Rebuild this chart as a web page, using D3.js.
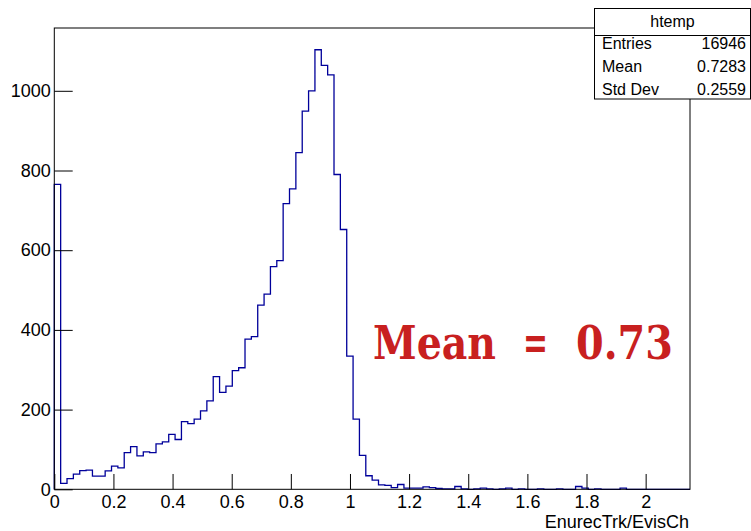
<!DOCTYPE html>
<html>
<head>
<meta charset="utf-8">
<script src="https://cdn.jsdelivr.net/npm/d3@7"></script>
<style>
  html, body { margin: 0; padding: 0; background: #fff; }
  svg { display: block; }
</style>
</head>
<body>
<svg id="chart" width="751" height="531"></svg>
<script>
// ---- data ----
const xMin = 0;
const xMax = 2.15;
const nBins = 100;
const binValues = [
  765, 15, 27, 38, 47, 48, 33, 33, 46, 58,
  54, 92, 107, 84, 94, 92, 114, 119, 138, 125,
  170, 165, 176, 197, 222, 283, 243, 259, 298, 305,
  377, 383, 462, 490, 559, 574, 717, 754, 845, 949,
  1000, 1103, 1064, 1040, 790, 652, 334, 176, 85, 34,
  23, 11, 10, 4, 12, 3, 3, 3, 6, 4,
  2, 1, 1, 7, 1, 0, 1, 3, 1, 0,
  1, 3, 0, 1, 0, 0, 1, 0, 0, 1,
  0, 0, 7, 3, 0, 1, 0, 0, 0, 3,
  0, 0, 0, 0, 0, 0, 0, 0, 0, 0
];
const xMajorTicks = [0, 0.2, 0.4, 0.6, 0.8, 1, 1.2, 1.4, 1.6, 1.8, 2];
const xTickLabels = ["0", "0.2", "0.4", "0.6", "0.8", "1", "1.2", "1.4", "1.6", "1.8", "2"];
const yMajorTicks = [0, 200, 400, 600, 800, 1000];
const yTickLabels = ["0", "200", "400", "600", "800", "1000"];
const yMax = 1157.6;
const xTitle = "EnurecTrk/EvisCh";
const statsTitle = "htemp";
const statsNames = ["Entries", "Mean", "Std Dev"];
const statsValues = ["16946", "0.7283", "0.2559"];
const annotationParts = ["Mean", "=", "0.73"];

// ---- layout ----
const L = 54.3, R = 690, T = 28, B = 489.3;
const svg = d3.select("#chart");
const x = d3.scaleLinear().domain([xMin, xMax]).range([L, R]);
const y = d3.scaleLinear().domain([0, yMax]).range([B, T]);
const font = "'Liberation Sans', Arial, Helvetica, sans-serif";

// histogram outline
const bw = (xMax - xMin) / nBins;
const pts = [[xMin, 0]];
binValues.forEach((v, i) => {
  pts.push([xMin + i * bw, v]);
  pts.push([xMin + (i + 1) * bw, v]);
});
pts.push([xMax, 0]);
svg.append("path")
  .attr("d", d3.line().x(d => x(d[0])).y(d => y(d[1]))(pts))
  .attr("fill", "none")
  .attr("stroke", "#00009a")
  .attr("stroke-width", 1.3);

// frame
svg.append("rect")
  .attr("x", L).attr("y", T).attr("width", R - L).attr("height", B - T)
  .attr("fill", "none").attr("stroke", "#000").attr("stroke-width", 1);

// x axis
const xMinor = d3.range(0, 43).map(i => +(i * 0.05).toFixed(2)).filter(v => v <= xMax && Math.abs(v / 0.2 - Math.round(v / 0.2)) > 1e-6);
const gx = svg.append("g").attr("transform", `translate(0,${B})`);
gx.call(d3.axisBottom(x).tickValues(xMinor).tickSize(-7.7).tickFormat(""));
gx.call(d3.axisBottom(x).tickValues(xMajorTicks).tickSize(-15.3).tickPadding(6)
  .tickFormat((d, i) => xTickLabels[i]));
gx.selectAll(".domain").remove();
gx.selectAll("line").attr("stroke", "#000");
gx.selectAll("text").attr("font-family", font).attr("font-size", 18).attr("fill", "#000");

// y axis
const yMinor = d3.range(0, 24).map(i => i * 50).filter(v => v <= yMax && v % 200 !== 0);
const gy = svg.append("g").attr("transform", `translate(${L},0)`);
gy.call(d3.axisLeft(y).tickValues(yMinor).tickSize(-10).tickFormat(""));
gy.call(d3.axisLeft(y).tickValues(yMajorTicks).tickSize(-18.4).tickPadding(3.6)
  .tickFormat((d, i) => yTickLabels[i]));
gy.selectAll(".domain").remove();
gy.selectAll("line").attr("stroke", "#000");
gy.selectAll("text").attr("font-family", font).attr("font-size", 18).attr("fill", "#000");

// x title
svg.append("text")
  .attr("x", R - 1).attr("y", 528)
  .attr("text-anchor", "end")
  .attr("font-family", font).attr("font-size", 18)
  .text(xTitle);

// stats box
const sb = { x: 594.5, y: 8.5, w: 156, h: 90.5 };
const gs = svg.append("g");
gs.append("rect").attr("x", sb.x).attr("y", sb.y).attr("width", sb.w).attr("height", sb.h)
  .attr("fill", "#fff").attr("stroke", "#000").attr("stroke-width", 1);
gs.append("line").attr("x1", sb.x).attr("x2", sb.x + sb.w).attr("y1", 35.5).attr("y2", 35.5)
  .attr("stroke", "#000");
gs.append("text").attr("x", sb.x + sb.w / 2).attr("y", 27)
  .attr("text-anchor", "middle").attr("font-family", font).attr("font-size", 16)
  .text(statsTitle);
statsNames.forEach((n, i) => {
  const by = 49 + i * 23;
  gs.append("text").attr("x", 602).attr("y", by)
    .attr("font-family", font).attr("font-size", 16).text(n);
  gs.append("text").attr("x", 746).attr("y", by).attr("text-anchor", "end")
    .attr("font-family", font).attr("font-size", 16).text(statsValues[i]);
});

// annotation (three pieces, placed like the reference)
const annX = [373, 523, 576];
const annW = [123, 25, 97];
annotationParts.forEach((p, i) => {
  svg.append("text")
    .attr("x", annX[i]).attr("y", 359)
    .attr("font-family", "'DejaVu Serif', serif").attr("font-weight", "bold")
    .attr("font-size", 46)
    .attr("fill", "#c8201f")
    .attr("textLength", annW[i]).attr("lengthAdjust", "spacingAndGlyphs")
    .text(p);
});
</script>
</body>
</html>
